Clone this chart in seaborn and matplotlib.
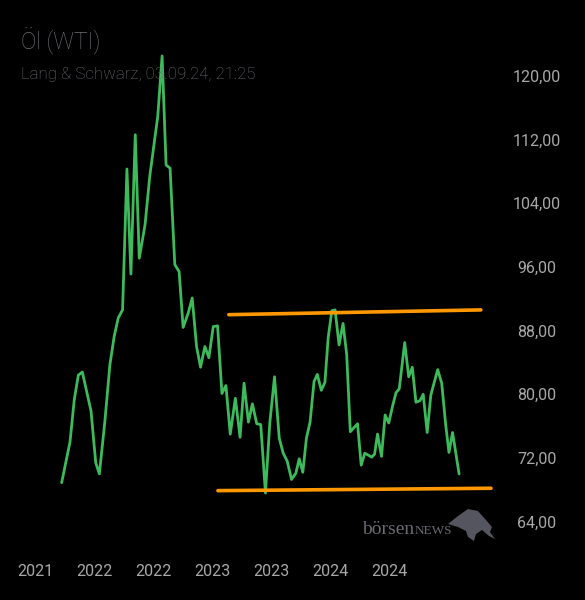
import numpy as np
import pandas as pd
import matplotlib
matplotlib.use("Agg")
import matplotlib.pyplot as plt
from matplotlib.patches import Polygon
import seaborn as sns

# WTI price, days after 03.09.2021 and closing value
start = pd.Timestamp("2021-09-03")
day_offsets = [0, 23, 35, 46, 57, 81, 94, 104, 119, 133,
               145, 156, 168, 180, 191, 203, 214, 230, 243, 265,
               277, 288, 299, 312, 324, 335, 349, 360, 372, 383,
               395, 406, 418, 430, 442, 453, 465, 479, 492, 503,
               515, 526, 538, 549, 562, 574, 587, 600, 611, 622,
               634, 646, 655, 665, 675, 685, 696, 705, 716, 726,
               735, 745, 754, 765, 776, 786, 796, 806, 816, 826,
               836, 848, 855, 863, 871, 882, 892, 902, 913, 922,
               931, 946, 957, 967, 977, 988, 997, 1008, 1018, 1037,
               1048, 1059, 1068, 1078, 1096]
prices = [68.9, 74.0, 79.4, 82.4, 82.8, 77.9, 71.4, 70.0, 76.5, 83.7,
          87.3, 89.6, 90.6, 108.3, 95.1, 112.6, 97.1, 101.3, 107.4, 114.9,
          122.5, 108.8, 108.4, 96.3, 95.4, 88.4, 90.2, 92.1, 86.0, 83.4,
          86.0, 84.6, 88.5, 88.6, 80.1, 81.1, 75.0, 79.5, 74.6, 81.4,
          76.5, 78.8, 76.3, 76.2, 67.6, 76.4, 82.2, 74.5, 72.6, 71.6,
          69.3, 70.1, 71.9, 70.2, 74.5, 76.5, 81.6, 82.5, 80.5, 81.5,
          87.1, 90.5, 90.6, 86.2, 88.9, 85.0, 75.3, 75.8, 76.3, 71.1,
          72.6, 72.3, 72.1, 72.5, 75.0, 72.2, 77.4, 76.4, 78.6, 80.2,
          80.7, 86.5, 82.2, 83.4, 79.0, 79.2, 80.0, 75.2, 79.9, 83.1,
          81.4, 76.2, 72.7, 75.2, 70.0]

# channel lines drawn on the chart
upper_days = [461, 1156]
upper_vals = [90.0, 90.6]
lower_days = [431, 1184]
lower_vals = [67.9, 68.2]

y_ticks = [64, 72, 80, 88, 96, 104, 112, 120]
x_labels = ["2021", "2022", "2022", "2023", "2023", "2024", "2024"]

df = pd.DataFrame({"date": start + pd.to_timedelta(day_offsets, unit="D"),
                   "price": prices})

sns.set_style("dark")
plt.rcParams["font.family"] = ["Roboto", "DejaVu Sans"]

fig = plt.figure(figsize=(5.85, 6.0), dpi=100, facecolor="black")
ax = fig.add_axes([0, 0.1, 495 / 585, 500 / 600])
ax.set_facecolor("black")

sns.lineplot(data=df, x="date", y="price", color="#3dba5b", linewidth=2, ax=ax)
ax.plot(start + pd.to_timedelta(upper_days, unit="D"), upper_vals, color="#ff9800", linewidth=2.6)
ax.plot(start + pd.to_timedelta(lower_days, unit="D"), lower_vals, color="#ff9800", linewidth=2.6)

ax.set_xlim(start - pd.Timedelta(days=170), start + pd.Timedelta(days=1195))
ax.set_ylim(61.7, 124.5)
for s in ax.spines.values():
    s.set_visible(False)
ax.grid(False)
ax.set_xlabel("")
ax.set_ylabel("")

ax.yaxis.tick_right()
ax.set_yticks(y_ticks)
ax.set_yticklabels([f"{v:.2f}".replace(".", ",") for v in y_ticks])
for lab in ax.get_yticklabels():
    lab.set_ha("center")
ax.tick_params(axis="y", length=0, pad=30, labelsize=11.5, labelcolor="#a8a8a8")

tick_dates = [start + pd.Timedelta(days=-73 + 163 * i) for i in range(len(x_labels))]
ax.set_xticks(tick_dates)
ax.set_xticklabels(x_labels)
ax.tick_params(axis="x", length=0, pad=17, labelsize=11.5, labelcolor="#a8a8a8")

fig.text(21 / 585, 1 - 41 / 600, "Öl (WTI)", color="#6e6e77", fontsize=16.5,
         fontweight="light", va="center", ha="left")
fig.text(21 / 585, 1 - 75 / 600, "Lang & Schwarz, 03.09.24, 21:25", color="#6e6e77",
         fontsize=12.2, fontweight="light", va="center", ha="left")

# börsenNEWS watermark
wm = fig.text(362 / 585, 1 - 534 / 600, "börsen", color="#6a6a72", fontsize=14,
              family="Liberation Serif", va="baseline", ha="left")
renderer = fig.canvas.get_renderer()
wm_end = wm.get_window_extent(renderer).x1
fig.text(wm_end / fig.bbox.width, 1 - 534 / 600, "NEWS", color="#6a6a72", fontsize=9.5,
         family="Liberation Serif", va="baseline", ha="left")
bull = [(448, 524), (458, 516), (468, 509), (478, 511), (486, 520), (492, 527),
        (490, 532), (495, 539), (489, 536), (482, 530), (476, 534), (474, 541),
        (468, 537), (466, 531), (458, 527)]
fig.patches.append(Polygon([(x / 585, 1 - y / 600) for x, y in bull], closed=True,
                           transform=fig.transFigure, facecolor="#55555f", edgecolor="none"))

fig.savefig("out.png", dpi=100, facecolor="black")
